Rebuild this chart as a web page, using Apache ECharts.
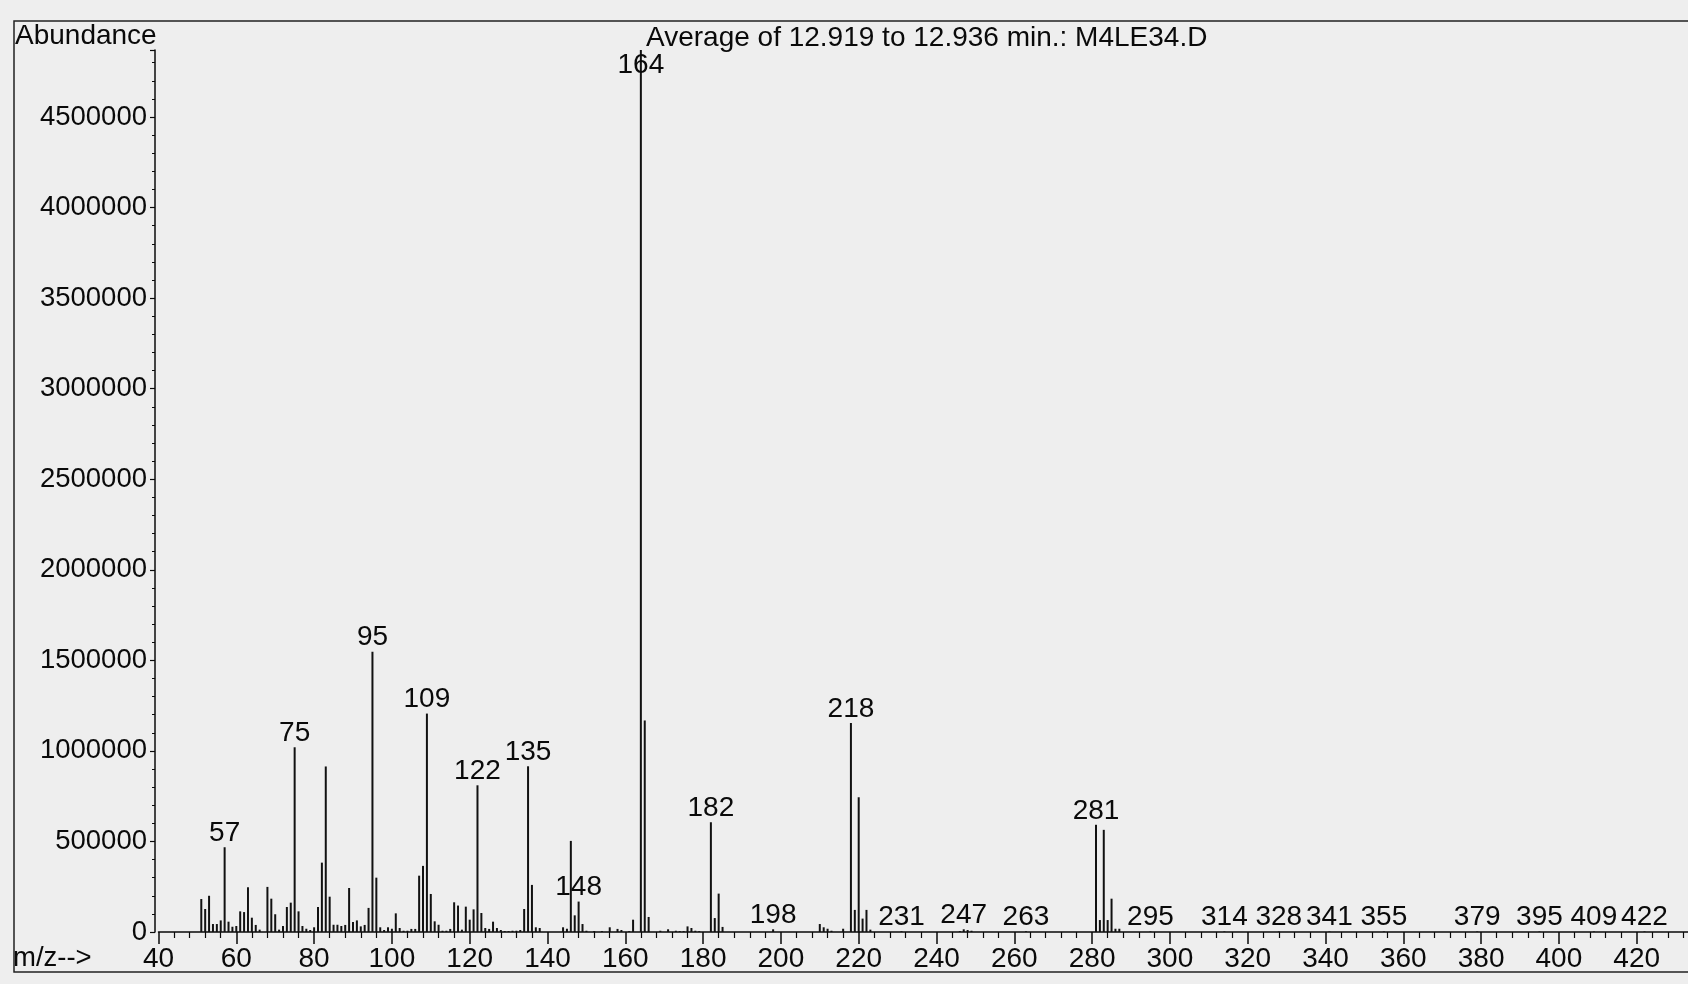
<!DOCTYPE html>
<html><head><meta charset="utf-8">
<script src="https://cdn.jsdelivr.net/npm/echarts@6/dist/echarts.min.js"></script>
<style>html,body{margin:0;padding:0;background:#eeeeee}#c{width:1688px;height:984px}</style>
</head><body><div id="c"></div>
<script>
// m/z values and abundances
const mz = [51,52,53,54,55,56,57,58,59,60,61,62,63,64,65,66,68,69,70,71,72,73,74,75,76,77,78,79,80,
  81,82,83,84,85,86,87,88,89,90,91,92,93,94,95,96,97,98,99,100,101,102,103,104,105,106,107,108,109,110,
  111,112,113,114,115,116,117,118,119,120,121,122,123,124,125,126,127,128,129,130,131,132,133,134,135,136,137,138,
  144,145,146,147,148,149,150,152,154,156,158,159,161,162,164,165,166,169,171,173,174,175,176,177,178,179,
  182,183,184,185,198,210,211,212,213,216,218,219,220,221,222,223,231,246,247,248,249,263,
  281,282,283,284,285,286,287,295,314,328,341,355,379,395,409,422];
const abundance = [182000,127000,200000,44000,44000,64000,468000,57000,29000,33000,114000,110000,247000,79000,39000,13000,249000,184000,98000,13000,33000,138000,162000,1020000,114000,33000,18000,11000,26000,
  138000,383000,914000,195000,40000,40000,33000,39000,243000,55000,64000,31000,39000,133000,1548000,300000,26000,11000,26000,18000,103000,22000,7000,7000,17000,17000,311000,365000,1206000,210000,
  59000,40000,7000,7000,17000,164000,146000,13000,140000,68000,125000,810000,105000,22000,17000,57000,22000,11000,5000,5000,7000,7000,11000,127000,915000,260000,26000,22000,
  26000,18000,503000,92000,168000,44000,7000,5000,5000,26000,17000,11000,5000,68000,4870000,1168000,83000,7000,15000,7000,5000,5000,31000,22000,7000,5000,
  606000,77000,212000,28000,15000,44000,26000,18000,7000,18000,1154000,122000,744000,74000,122000,13000,4000,5000,15000,11000,7000,4000,
  592000,66000,564000,66000,184000,18000,18000,3000,3000,3000,3000,3000,3000,3000,3000,3000];
// peaks carrying an m/z label
const labeledMz = [57,75,95,109,122,135,148,164,182,198,218,231,247,263,281,295,314,328,341,355,379,395,409,422];
// axis ranges
const xMin = 40, xMax = 440, xStep = 20;
const yMin = 0, yMax = 4870000, yStep = 500000;
const titleText = 'Average of 12.919 to 12.936 min.: M4LE34.D';
const yName = 'Abundance';
const xName = 'm/z-->';

const FONT = '"Liberation Sans", Arial, Helvetica, sans-serif';
const INK = '#0a0a0a';

const data = mz.map((m, i) => {
  const item = { value: [m, abundance[i]] };
  if (labeledMz.includes(m)) {
    item.label = (m === 164)
      ? { show: true, position: 'insideTop', distance: 1 }
      : { show: true, position: 'top', distance: 0 };
  }
  return item;
});

const chart = echarts.init(document.getElementById('c'), null, { renderer: 'canvas' });
chart.setOption({
  backgroundColor: '#eeeeee',
  animation: false,
  textStyle: { fontFamily: FONT },
  title: [
    { text: yName, left: 15, top: 22, padding: 0, textStyle: { fontFamily: FONT, fontSize: 28, fontWeight: 'normal', color: INK } },
    { text: titleText, left: 646, top: 24, padding: 0, textStyle: { fontFamily: FONT, fontSize: 28, fontWeight: 'normal', color: INK } },
    { text: xName, left: 13, top: 944, padding: 0, textStyle: { fontFamily: FONT, fontSize: 27.5, fontWeight: 'normal', color: INK } }
  ],
  grid: [
    { left: 158.5, right: -26.5, top: 50, bottom: 52, containLabel: false, outerBoundsMode: 'none' },
    { left: 14, right: -10, top: 21, bottom: 12, show: true, borderColor: '#222', borderWidth: 1.5,
      backgroundColor: 'transparent', containLabel: false, outerBoundsMode: 'none' }
  ],
  xAxis: {
    type: 'value', gridIndex: 0, min: xMin, max: xMax, interval: xStep,
    axisLine: { show: true, lineStyle: { color: INK, width: 1.5 } },
    axisTick: { show: true, length: 12, lineStyle: { color: INK, width: 1.5 } },
    minorTick: { show: true, splitNumber: 5, length: 6, lineStyle: { color: INK, width: 1.2 } },
    axisLabel: { fontFamily: FONT, fontSize: 28, color: INK, margin: 13, formatter: v => String(v) },
    splitLine: { show: false }, minorSplitLine: { show: false }
  },
  yAxis: {
    type: 'value', gridIndex: 0, min: yMin, max: yMax, interval: yStep, offset: 3.5,
    axisLine: { show: true, lineStyle: { color: INK, width: 1.5 } },
    axisTick: { show: true, length: 5, lineStyle: { color: INK, width: 1.2 } },
    minorTick: { show: true, splitNumber: 5, length: 3, lineStyle: { color: INK, width: 1 } },
    axisLabel: { fontFamily: FONT, fontSize: 27.5, color: INK, margin: 8, showMaxLabel: false,
      formatter: v => (v % yStep === 0 ? String(v) : '') },
    splitLine: { show: false }, minorSplitLine: { show: false }
  },
  series: [{
    type: 'bar', xAxisIndex: 0, yAxisIndex: 0, data: data, barWidth: 2,
    itemStyle: { color: '#111111' },
    label: { fontFamily: FONT, fontSize: 28, color: INK, formatter: p => String(p.value[0]) }
  }]
});
</script></body></html>
